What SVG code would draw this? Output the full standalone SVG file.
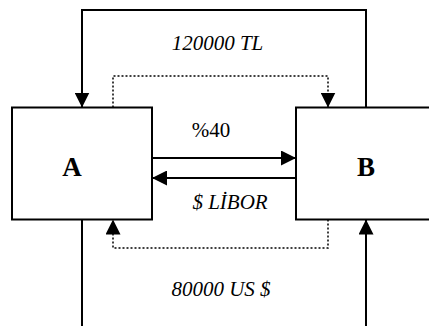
<svg xmlns="http://www.w3.org/2000/svg" width="429" height="326" viewBox="0 0 429 326">
<style>
.box{fill:#fff;stroke:#000;stroke-width:2}
.ln{fill:none;stroke:#000;stroke-width:2}
.dot{fill:none;stroke:#000;stroke-width:1.5;stroke-dasharray:2 2}
.lbl{font-family:"Liberation Serif","Times New Roman",serif;font-size:21px;fill:#000;text-anchor:middle}
.it{font-style:italic}
.nm{font-family:"Liberation Serif","Times New Roman",serif;font-size:27px;font-weight:bold;fill:#000;text-anchor:middle}
</style>
<defs>
<marker id="ah" markerUnits="userSpaceOnUse" markerWidth="15" markerHeight="15" refX="15" refY="7.5" orient="auto">
<path d="M0,0 L15,7.5 L0,15 z" fill="#000"/>
</marker>
</defs>
<rect width="429" height="326" fill="#fff"/>
<g id="nodeA">
<rect class="box" x="12" y="107.5" width="140" height="112"/>
<text class="nm" x="72" y="176">A</text>
</g>
<g id="nodeB">
<rect class="box" x="296" y="107.5" width="150" height="112"/>
<text class="nm" x="366" y="176">B</text>
</g>
<g id="connectors">
<path class="ln" d="M366,107.5 V10 H82 V107.5" marker-end="url(#ah)"/>
<path class="dot" d="M113,107.5 V76 H328 V107.5" marker-end="url(#ah)"/>
<path class="ln" d="M152,158 H296" marker-end="url(#ah)"/>
<path class="ln" d="M296,178 H152" marker-end="url(#ah)"/>
<path class="dot" d="M328,219.5 V248 H113 V219.5" marker-end="url(#ah)"/>
<path class="ln" d="M82,219.5 V326"/>
<path class="ln" d="M366,326 V219.5" marker-end="url(#ah)"/>
</g>
<g id="labels">
<text class="lbl it" x="217.5" y="50">120000 TL</text>
<text class="lbl" x="211" y="137">%40</text>
<text class="lbl it" x="230" y="209">$ LİBOR</text>
<text class="lbl it" x="221" y="296">80000 US $</text>
</g>
</svg>
